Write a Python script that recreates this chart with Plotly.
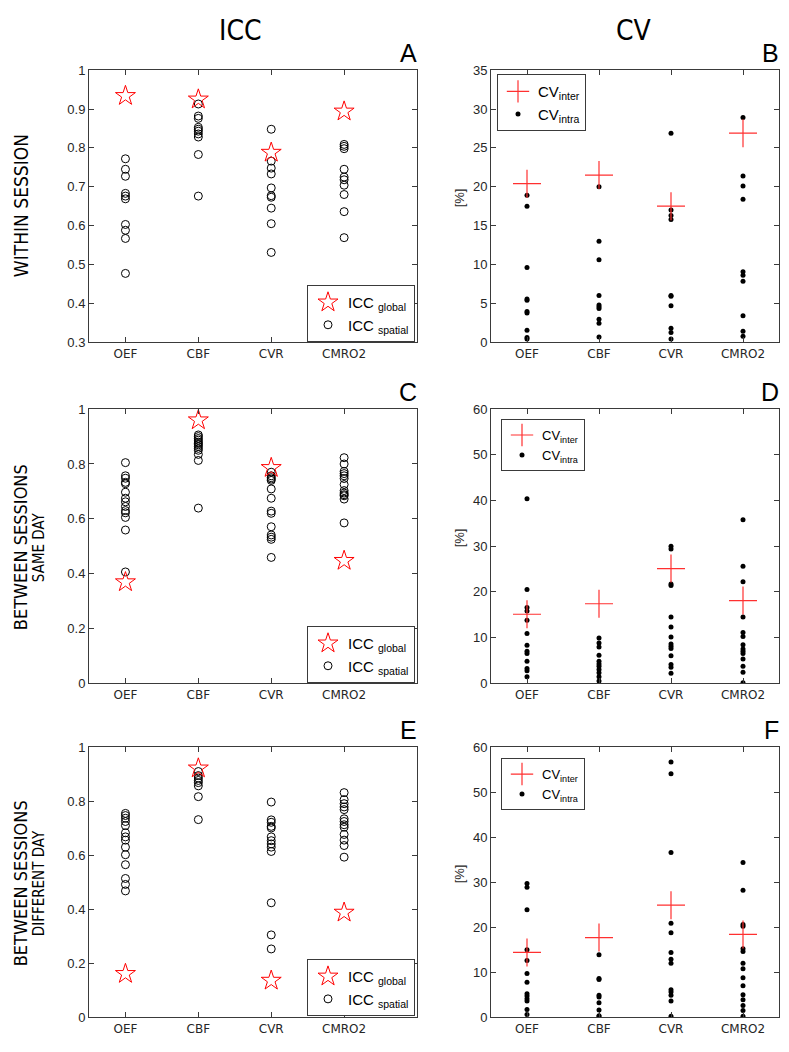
import plotly.graph_objects as go

# ---------------- data ----------------
categories = ["OEF", "CBF", "CVR", "CMRO2"]

# Panel A: within session ICC
icc_within_global = [0.934, 0.925, 0.788, 0.894]
icc_within_spatial = [
    [0.772, 0.745, 0.727, 0.683, 0.676, 0.669, 0.603, 0.588, 0.567, 0.477],
    [0.913, 0.882, 0.876, 0.853, 0.848, 0.843, 0.836, 0.828, 0.783, 0.676],
    [0.848, 0.766, 0.748, 0.733, 0.697, 0.677, 0.673, 0.645, 0.605, 0.531],
    [0.809, 0.804, 0.798, 0.745, 0.725, 0.718, 0.704, 0.680, 0.636, 0.569],
]

# Panel B: within session CV
cv_within_inter = [20.4, 21.5, 17.5, 26.9]
cv_within_intra = [
    [18.9, 17.5, 9.6, 5.55, 5.4, 3.95, 3.75, 1.55, 0.6, 0.4],
    [20.0, 13.0, 10.6, 6.0, 4.8, 4.55, 4.35, 2.95, 2.45, 0.67],
    [26.9, 17.0, 16.3, 15.8, 6.0, 5.9, 4.7, 1.8, 1.25, 0.4],
    [28.9, 21.4, 20.1, 18.4, 9.05, 8.6, 7.85, 3.4, 1.4, 0.75],
]

# Panel C: between sessions, same day ICC
icc_same_global = [0.369, 0.960, 0.786, 0.447]
icc_same_spatial = [
    [0.805, 0.757, 0.748, 0.733, 0.728, 0.697, 0.675, 0.662, 0.645, 0.630, 0.622, 0.605, 0.559, 0.406],
    [0.906, 0.900, 0.893, 0.887, 0.880, 0.875, 0.870, 0.864, 0.857, 0.850, 0.835, 0.813, 0.639],
    [0.770, 0.757, 0.750, 0.745, 0.740, 0.709, 0.675, 0.628, 0.620, 0.571, 0.541, 0.533, 0.525, 0.459],
    [0.823, 0.800, 0.773, 0.765, 0.757, 0.747, 0.725, 0.703, 0.694, 0.688, 0.684, 0.672, 0.585],
]

# Panel D: between sessions, same day CV
cv_same_inter = [15.1, 17.4, 25.1, 18.1]
cv_same_intra = [
    [40.4, 20.5, 16.6, 15.8, 13.8, 10.9, 8.3, 7.0, 6.5, 4.8, 3.2, 2.7, 1.4],
    [9.9, 8.8, 7.9, 6.1, 4.8, 4.2, 3.7, 3.0, 2.3, 1.4, 0.5],
    [30.0, 29.4, 21.7, 21.4, 14.5, 12.3, 10.1, 8.6, 8.1, 7.6, 6.0, 4.1, 3.5, 2.2],
    [35.8, 25.6, 22.2, 14.5, 11.1, 10.2, 8.4, 7.5, 7.0, 6.5, 5.3, 3.7, 2.4, 0.1],
]

# Panel E: between sessions, different day ICC
icc_diff_global = [0.161, 0.922, 0.136, 0.388]
icc_diff_spatial = [
    [0.755, 0.747, 0.737, 0.725, 0.710, 0.683, 0.668, 0.656, 0.630, 0.602, 0.565, 0.514, 0.492, 0.468],
    [0.910, 0.895, 0.886, 0.877, 0.869, 0.857, 0.817, 0.732],
    [0.797, 0.731, 0.722, 0.707, 0.701, 0.668, 0.654, 0.642, 0.630, 0.614, 0.424, 0.305, 0.253],
    [0.832, 0.806, 0.791, 0.779, 0.769, 0.735, 0.725, 0.713, 0.704, 0.677, 0.656, 0.636, 0.593],
]

# Panel F: between sessions, different day CV
cv_diff_inter = [14.4, 17.7, 24.9, 18.4]
cv_diff_intra = [
    [29.7, 28.9, 23.9, 15.0, 12.6, 9.7, 7.8, 5.2, 4.7, 4.1, 3.6, 1.7, 0.6],
    [13.9, 8.6, 8.4, 4.9, 4.5, 3.2, 1.6, 0.35, 0.15],
    [56.7, 54.1, 36.6, 20.9, 18.8, 14.4, 12.9, 12.0, 6.1, 5.6, 4.9, 3.6, 0.2],
    [34.4, 28.2, 20.6, 20.2, 15.2, 14.6, 12.0, 10.8, 8.8, 7.0, 5.0, 3.9, 2.6, 1.5, 0.2],
]

icc_ticks = [0.3, 0.4, 0.5, 0.6, 0.7, 0.8, 0.9, 1.0]
icc_ticktext = ["0.3", "0.4", "0.5", "0.6", "0.7", "0.8", "0.9", "1"]
icc_ticks2 = [0, 0.2, 0.4, 0.6, 0.8, 1.0]
icc_ticktext2 = ["0", "0.2", "0.4", "0.6", "0.8", "1"]
cv_ticks_b = [0, 5, 10, 15, 20, 25, 30, 35]
cv_ticks_df = [0, 10, 20, 30, 40, 50, 60]

# ---------------- layout helpers ----------------
# The page body keeps its default 8px margin on every side; keep the figure
# small enough that the page never overflows (no scrollbars) and place things
# in window pixel coordinates.
OFF = 8
W, H = 789 - 2 * OFF, 1052 - 2 * OFF


def fx(p):
    return (p - OFF) / W


def fy(p):
    return 1 - (p - OFF) / H


row_top = [64, 408, 751]
row_bot = [340, 686, 1025]
icc_x = (89, 417)
cv_x = (491, 779)

AX = "#3a3a3a"
NUMFONT = dict(family="Liberation Sans, Arial, sans-serif", size=13, color="#262626")
CATFONT = dict(family="DejaVu Sans, Verdana, sans-serif", size=12, color="#262626")
NARROW = "Liberation Sans Narrow, DejaVu Sans Condensed, Liberation Sans, sans-serif"

fig = go.Figure()


def flat(groups):
    xs, ys = [], []
    for i, g in enumerate(groups):
        for v in g:
            xs.append(i + 1)
            ys.append(v)
    return xs, ys


panels = [
    ("icc", icc_within_global, icc_within_spatial, 0, [0.3, 1.0], icc_ticks, icc_ticktext),
    ("cv", cv_within_inter, cv_within_intra, 0, [0, 35], cv_ticks_b, [str(t) for t in cv_ticks_b]),
    ("icc", icc_same_global, icc_same_spatial, 1, [0, 1.0], icc_ticks2, icc_ticktext2),
    ("cv", cv_same_inter, cv_same_intra, 1, [0, 60], cv_ticks_df, [str(t) for t in cv_ticks_df]),
    ("icc", icc_diff_global, icc_diff_spatial, 2, [0, 1.0], icc_ticks2, icc_ticktext2),
    ("cv", cv_diff_inter, cv_diff_intra, 2, [0, 60], cv_ticks_df, [str(t) for t in cv_ticks_df]),
]

legend_pos = [
    (307, 282), (497, 68),
    (307, 628), (501, 418),
    (307, 966), (501, 762),
]

for k, (kind, glob, spat, row, yr, tv, tt) in enumerate(panels):
    n = k + 1
    xa = "x" if n == 1 else f"x{n}"
    ya = "y" if n == 1 else f"y{n}"
    leg = "legend" if n == 1 else f"legend{n}"
    sx, sy = flat(spat)
    if kind == "icc":
        fig.add_trace(go.Scatter(
            x=sx, y=sy, mode="markers", xaxis=xa, yaxis=ya, legend=leg,
            name="ICC <sub>spatial</sub>", legendrank=2,
            marker=dict(symbol="circle-open", size=8, color="black", line=dict(width=1, color="black")),
            hoverinfo="skip"))
        fig.add_trace(go.Scatter(
            x=[1, 2, 3, 4], y=glob, mode="markers", xaxis=xa, yaxis=ya, legend=leg,
            name="ICC <sub>global</sub>", legendrank=1,
            marker=dict(symbol="star-open", size=15, color="red", line=dict(width=1, color="red")),
            hoverinfo="skip"))
    else:
        fig.add_trace(go.Scatter(
            x=sx, y=sy, mode="markers", xaxis=xa, yaxis=ya, legend=leg,
            name="CV<sub>intra</sub>", legendrank=2,
            marker=dict(symbol="circle", size=5, color="black"),
            hoverinfo="skip"))
        fig.add_trace(go.Scatter(
            x=[1, 2, 3, 4], y=glob, mode="markers", xaxis=xa, yaxis=ya, legend=leg,
            name="CV<sub>inter</sub>", legendrank=1,
            marker=dict(symbol="cross-thin-open", size=20, color="#ff3030",
                        line=dict(width=1.2, color="#ff3030")),
            hoverinfo="skip"))

    xdom = icc_x if kind == "icc" else cv_x
    xr = [0.5, 5.0] if kind == "icc" else [0.5, 4.5]
    xkey = "xaxis" if n == 1 else f"xaxis{n}"
    ykey = "yaxis" if n == 1 else f"yaxis{n}"
    fig.layout[xkey] = dict(
        domain=[fx(xdom[0]), fx(xdom[1])], range=xr, anchor=ya,
        tickmode="array", tickvals=[1, 2, 3, 4], ticktext=categories,
        showline=True, linecolor=AX, linewidth=1, mirror="ticks",
        ticks="inside", ticklen=5, tickcolor=AX, tickwidth=1,
        showgrid=False, zeroline=False, tickfont=CATFONT, fixedrange=True)
    fig.layout[ykey] = dict(
        domain=[fy(row_bot[row]), fy(row_top[row])], range=yr, anchor=xa,
        tickmode="array", tickvals=tv, ticktext=tt,
        showline=True, linecolor=AX, linewidth=1, mirror="ticks",
        ticks="inside", ticklen=5, tickcolor=AX, tickwidth=1,
        showgrid=False, zeroline=False, tickfont=NUMFONT, fixedrange=True)

    lx, ly = legend_pos[k]
    lfont = dict(family="Liberation Sans, Arial, sans-serif",
                 size=15 if (kind == "icc" or row == 0) else 13, color="black")
    fig.layout[leg] = dict(
        x=fx(lx), y=fy(ly), xanchor="left", yanchor="top", xref="paper", yref="paper",
        bgcolor="white", bordercolor=AX, borderwidth=1, font=lfont,
        itemwidth=30, tracegroupgap=0, traceorder="normal")

annotations = []
annotations.append(dict(text="ICC", x=fx(240), y=fy(24), xref="paper", yref="paper",
                        showarrow=False, xanchor="center", yanchor="middle",
                        font=dict(family=NARROW, size=28, color="black")))
annotations.append(dict(text="CV", x=fx(634), y=fy(24), xref="paper", yref="paper",
                        showarrow=False, xanchor="center", yanchor="middle",
                        font=dict(family=NARROW, size=28, color="black")))
letters = ["A", "B", "C", "D", "E", "F"]
for k, L in enumerate(letters):
    row = k // 2
    xr_edge = icc_x[1] + 1 if k % 2 == 0 else cv_x[1] + 1
    annotations.append(dict(text=L, x=fx(xr_edge), y=fy(row_top[row] - 17), xref="paper", yref="paper",
                            showarrow=False, xanchor="right", yanchor="middle", borderpad=0,
                            font=dict(family="Liberation Sans, Arial, sans-serif", size=25, color="black")))
for row in range(3):
    annotations.append(dict(text="[%]", x=fx(459), y=fy((row_top[row] + row_bot[row]) / 2 - 8),
                            xref="paper", yref="paper", showarrow=False, textangle=-90,
                            xanchor="center", yanchor="middle",
                            font=dict(family="Liberation Sans, Arial, sans-serif", size=13, color="#262626")))
annotations.append(dict(text="WITHIN SESSION", x=fx(21), y=fy(202), xref="paper", yref="paper",
                        showarrow=False, textangle=-90, xanchor="center", yanchor="middle",
                        font=dict(family=NARROW, size=19, color="black")))
annotations.append(dict(text="BETWEEN SESSIONS", x=fx(20), y=fy(548), xref="paper", yref="paper",
                        showarrow=False, textangle=-90, xanchor="center", yanchor="middle",
                        font=dict(family=NARROW, size=18, color="black")))
annotations.append(dict(text="SAME DAY", x=fx(39), y=fy(548), xref="paper", yref="paper",
                        showarrow=False, textangle=-90, xanchor="center", yanchor="middle",
                        font=dict(family=NARROW, size=15, color="black")))
annotations.append(dict(text="BETWEEN SESSIONS", x=fx(20), y=fy(889), xref="paper", yref="paper",
                        showarrow=False, textangle=-90, xanchor="center", yanchor="middle",
                        font=dict(family=NARROW, size=18, color="black")))
annotations.append(dict(text="DIFFERENT DAY", x=fx(39), y=fy(889), xref="paper", yref="paper",
                        showarrow=False, textangle=-90, xanchor="center", yanchor="middle",
                        font=dict(family=NARROW, size=15, color="black")))

fig.update_layout(
    width=W, height=H, margin=dict(l=0, r=0, t=0, b=0),
    paper_bgcolor="white", plot_bgcolor="white",
    annotations=annotations, showlegend=True,
)

fig.write_html("out.html", config=dict(displayModeBar=False))
